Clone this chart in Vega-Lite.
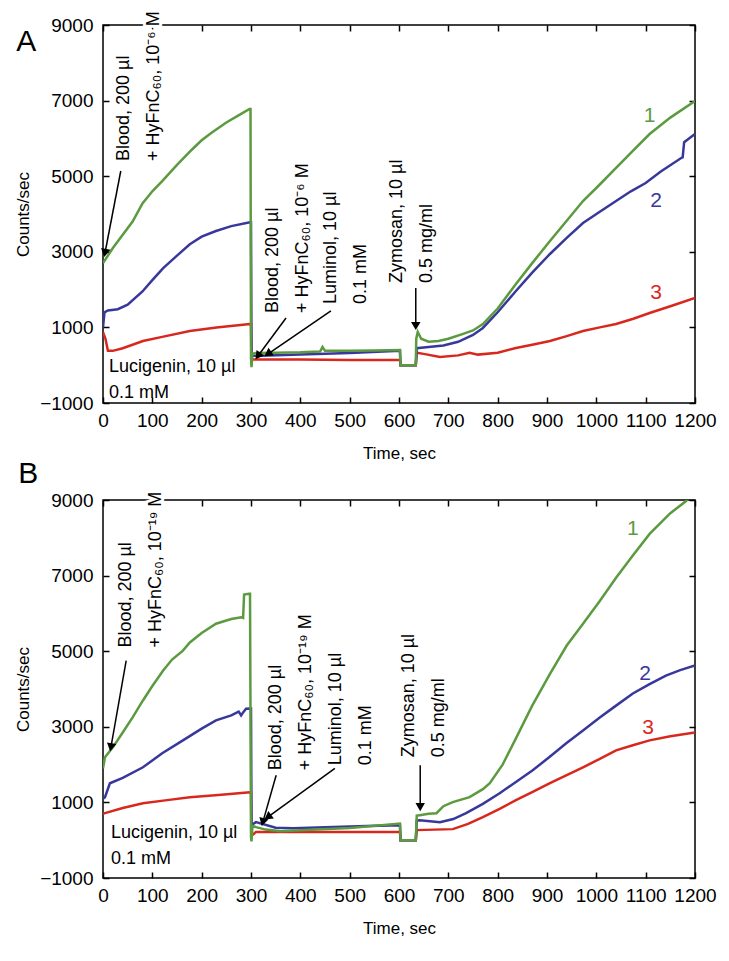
{
  "$schema": "https://vega.github.io/schema/vega-lite/v6.json",
  "background": "white",
  "padding": {"left": 13, "top": 10, "right": 5, "bottom": 5},
  "config": {
    "font": "Liberation Sans",
    "view": {"stroke": "black", "strokeWidth": 1.5},
    "axis": {
      "domain": false, "grid": false, "tickColor": "black", "tickSize": 6, "offset": -6, "tickWidth": 1.5,
      "labelColor": "black", "labelFontSize": 19, "labelFlush": false, "labelOverlap": false, "format": "d",
      "titleFontSize": 17, "titleFontWeight": "normal", "titleColor": "black"
    },
    "axisX": {"labelPadding": 8, "titlePadding": 15},
    "axisY": {"labelPadding": 10, "titlePadding": 7}
  },
  "datasets": {
    "curves": [
      {"p":"A","s":"3","t":0,"v":870},{"p":"A","s":"3","t":5,"v":700},{"p":"A","s":"3","t":10,"v":380},{"p":"A","s":"3","t":20,"v":380},{"p":"A","s":"3","t":40,"v":450},{"p":"A","s":"3","t":81,"v":640},{"p":"A","s":"3","t":120,"v":750},{"p":"A","s":"3","t":176,"v":905},{"p":"A","s":"3","t":230,"v":1000},{"p":"A","s":"3","t":298,"v":1090},{"p":"A","s":"3","t":300,"v":1090},{"p":"A","s":"3","t":301,"v":150},{"p":"A","s":"3","t":400,"v":150},{"p":"A","s":"3","t":500,"v":140},{"p":"A","s":"3","t":602,"v":138},{"p":"A","s":"3","t":603,"v":0},{"p":"A","s":"3","t":634,"v":0},{"p":"A","s":"3","t":636,"v":330},{"p":"A","s":"3","t":650,"v":300},{"p":"A","s":"3","t":683,"v":217},{"p":"A","s":"3","t":720,"v":260},{"p":"A","s":"3","t":743,"v":330},{"p":"A","s":"3","t":760,"v":280},{"p":"A","s":"3","t":800,"v":330},{"p":"A","s":"3","t":837,"v":455},{"p":"A","s":"3","t":870,"v":540},{"p":"A","s":"3","t":906,"v":640},{"p":"A","s":"3","t":940,"v":770},{"p":"A","s":"3","t":973,"v":905},{"p":"A","s":"3","t":1007,"v":1000},{"p":"A","s":"3","t":1040,"v":1090},{"p":"A","s":"3","t":1075,"v":1230},{"p":"A","s":"3","t":1108,"v":1381},{"p":"A","s":"3","t":1150,"v":1560},{"p":"A","s":"3","t":1200,"v":1780},
      {"p":"A","s":"2","t":0,"v":1000},{"p":"A","s":"2","t":3,"v":1400},{"p":"A","s":"2","t":10,"v":1450},{"p":"A","s":"2","t":30,"v":1480},{"p":"A","s":"2","t":50,"v":1600},{"p":"A","s":"2","t":80,"v":1950},{"p":"A","s":"2","t":100,"v":2250},{"p":"A","s":"2","t":122,"v":2570},{"p":"A","s":"2","t":150,"v":2900},{"p":"A","s":"2","t":176,"v":3200},{"p":"A","s":"2","t":200,"v":3400},{"p":"A","s":"2","t":229,"v":3550},{"p":"A","s":"2","t":260,"v":3680},{"p":"A","s":"2","t":298,"v":3780},{"p":"A","s":"2","t":300,"v":3780},{"p":"A","s":"2","t":301,"v":250},{"p":"A","s":"2","t":320,"v":250},{"p":"A","s":"2","t":400,"v":280},{"p":"A","s":"2","t":500,"v":320},{"p":"A","s":"2","t":602,"v":380},{"p":"A","s":"2","t":603,"v":0},{"p":"A","s":"2","t":634,"v":0},{"p":"A","s":"2","t":636,"v":450},{"p":"A","s":"2","t":660,"v":480},{"p":"A","s":"2","t":690,"v":520},{"p":"A","s":"2","t":720,"v":620},{"p":"A","s":"2","t":750,"v":800},{"p":"A","s":"2","t":770,"v":985},{"p":"A","s":"2","t":800,"v":1400},{"p":"A","s":"2","t":837,"v":1963},{"p":"A","s":"2","t":870,"v":2450},{"p":"A","s":"2","t":906,"v":2942},{"p":"A","s":"2","t":940,"v":3370},{"p":"A","s":"2","t":973,"v":3762},{"p":"A","s":"2","t":1007,"v":4060},{"p":"A","s":"2","t":1040,"v":4344},{"p":"A","s":"2","t":1070,"v":4600},{"p":"A","s":"2","t":1100,"v":4820},{"p":"A","s":"2","t":1130,"v":5120},{"p":"A","s":"2","t":1172,"v":5482},{"p":"A","s":"2","t":1175,"v":5500},{"p":"A","s":"2","t":1178,"v":5900},{"p":"A","s":"2","t":1200,"v":6116},
      {"p":"A","s":"1","t":0,"v":2700},{"p":"A","s":"1","t":10,"v":2900},{"p":"A","s":"1","t":20,"v":3100},{"p":"A","s":"1","t":40,"v":3450},{"p":"A","s":"1","t":60,"v":3800},{"p":"A","s":"1","t":80,"v":4280},{"p":"A","s":"1","t":100,"v":4600},{"p":"A","s":"1","t":120,"v":4870},{"p":"A","s":"1","t":150,"v":5300},{"p":"A","s":"1","t":180,"v":5700},{"p":"A","s":"1","t":200,"v":5950},{"p":"A","s":"1","t":220,"v":6150},{"p":"A","s":"1","t":250,"v":6420},{"p":"A","s":"1","t":280,"v":6650},{"p":"A","s":"1","t":297,"v":6780},{"p":"A","s":"1","t":299,"v":6780},{"p":"A","s":"1","t":300,"v":200},{"p":"A","s":"1","t":301,"v":-50},{"p":"A","s":"1","t":303,"v":300},{"p":"A","s":"1","t":310,"v":320},{"p":"A","s":"1","t":350,"v":330},{"p":"A","s":"1","t":400,"v":340},{"p":"A","s":"1","t":440,"v":360},{"p":"A","s":"1","t":445,"v":480},{"p":"A","s":"1","t":450,"v":380},{"p":"A","s":"1","t":500,"v":380},{"p":"A","s":"1","t":550,"v":390},{"p":"A","s":"1","t":602,"v":400},{"p":"A","s":"1","t":603,"v":0},{"p":"A","s":"1","t":634,"v":0},{"p":"A","s":"1","t":635,"v":700},{"p":"A","s":"1","t":638,"v":880},{"p":"A","s":"1","t":645,"v":700},{"p":"A","s":"1","t":660,"v":620},{"p":"A","s":"1","t":680,"v":640},{"p":"A","s":"1","t":700,"v":700},{"p":"A","s":"1","t":730,"v":830},{"p":"A","s":"1","t":750,"v":920},{"p":"A","s":"1","t":770,"v":1090},{"p":"A","s":"1","t":800,"v":1500},{"p":"A","s":"1","t":837,"v":2148},{"p":"A","s":"1","t":870,"v":2700},{"p":"A","s":"1","t":906,"v":3286},{"p":"A","s":"1","t":940,"v":3820},{"p":"A","s":"1","t":973,"v":4344},{"p":"A","s":"1","t":1007,"v":4780},{"p":"A","s":"1","t":1040,"v":5217},{"p":"A","s":"1","t":1074,"v":5670},{"p":"A","s":"1","t":1108,"v":6116},{"p":"A","s":"1","t":1150,"v":6550},{"p":"A","s":"1","t":1200,"v":6990},
      {"p":"B","s":"3","t":0,"v":700},{"p":"B","s":"3","t":4,"v":715},{"p":"B","s":"3","t":40,"v":850},{"p":"B","s":"3","t":81,"v":979},{"p":"B","s":"3","t":130,"v":1060},{"p":"B","s":"3","t":176,"v":1138},{"p":"B","s":"3","t":240,"v":1200},{"p":"B","s":"3","t":298,"v":1269},{"p":"B","s":"3","t":300,"v":1269},{"p":"B","s":"3","t":301,"v":120},{"p":"B","s":"3","t":310,"v":214},{"p":"B","s":"3","t":400,"v":214},{"p":"B","s":"3","t":500,"v":220},{"p":"B","s":"3","t":602,"v":214},{"p":"B","s":"3","t":603,"v":0},{"p":"B","s":"3","t":634,"v":0},{"p":"B","s":"3","t":636,"v":267},{"p":"B","s":"3","t":709,"v":293},{"p":"B","s":"3","t":740,"v":430},{"p":"B","s":"3","t":770,"v":610},{"p":"B","s":"3","t":804,"v":830},{"p":"B","s":"3","t":837,"v":1058},{"p":"B","s":"3","t":871,"v":1280},{"p":"B","s":"3","t":906,"v":1507},{"p":"B","s":"3","t":940,"v":1720},{"p":"B","s":"3","t":973,"v":1929},{"p":"B","s":"3","t":1007,"v":2150},{"p":"B","s":"3","t":1040,"v":2377},{"p":"B","s":"3","t":1074,"v":2510},{"p":"B","s":"3","t":1108,"v":2641},{"p":"B","s":"3","t":1150,"v":2750},{"p":"B","s":"3","t":1200,"v":2852},
      {"p":"B","s":"2","t":0,"v":1100},{"p":"B","s":"2","t":4,"v":1137},{"p":"B","s":"2","t":14,"v":1507},{"p":"B","s":"2","t":40,"v":1650},{"p":"B","s":"2","t":81,"v":1929},{"p":"B","s":"2","t":120,"v":2300},{"p":"B","s":"2","t":162,"v":2641},{"p":"B","s":"2","t":200,"v":2950},{"p":"B","s":"2","t":229,"v":3169},{"p":"B","s":"2","t":260,"v":3300},{"p":"B","s":"2","t":275,"v":3400},{"p":"B","s":"2","t":280,"v":3300},{"p":"B","s":"2","t":284,"v":3380},{"p":"B","s":"2","t":290,"v":3480},{"p":"B","s":"2","t":298,"v":3486},{"p":"B","s":"2","t":300,"v":3486},{"p":"B","s":"2","t":301,"v":400},{"p":"B","s":"2","t":310,"v":478},{"p":"B","s":"2","t":350,"v":330},{"p":"B","s":"2","t":385,"v":319},{"p":"B","s":"2","t":450,"v":340},{"p":"B","s":"2","t":500,"v":360},{"p":"B","s":"2","t":602,"v":398},{"p":"B","s":"2","t":603,"v":0},{"p":"B","s":"2","t":634,"v":0},{"p":"B","s":"2","t":636,"v":520},{"p":"B","s":"2","t":642,"v":530},{"p":"B","s":"2","t":683,"v":478},{"p":"B","s":"2","t":710,"v":560},{"p":"B","s":"2","t":736,"v":715},{"p":"B","s":"2","t":770,"v":960},{"p":"B","s":"2","t":804,"v":1243},{"p":"B","s":"2","t":837,"v":1540},{"p":"B","s":"2","t":871,"v":1850},{"p":"B","s":"2","t":905,"v":2200},{"p":"B","s":"2","t":939,"v":2562},{"p":"B","s":"2","t":973,"v":2900},{"p":"B","s":"2","t":1007,"v":3248},{"p":"B","s":"2","t":1040,"v":3560},{"p":"B","s":"2","t":1074,"v":3881},{"p":"B","s":"2","t":1107,"v":4120},{"p":"B","s":"2","t":1141,"v":4356},{"p":"B","s":"2","t":1170,"v":4500},{"p":"B","s":"2","t":1200,"v":4620},
      {"p":"B","s":"1","t":0,"v":1900},{"p":"B","s":"1","t":4,"v":2193},{"p":"B","s":"1","t":20,"v":2457},{"p":"B","s":"1","t":40,"v":2850},{"p":"B","s":"1","t":60,"v":3250},{"p":"B","s":"1","t":81,"v":3697},{"p":"B","s":"1","t":100,"v":4080},{"p":"B","s":"1","t":122,"v":4488},{"p":"B","s":"1","t":140,"v":4780},{"p":"B","s":"1","t":162,"v":5016},{"p":"B","s":"1","t":176,"v":5230},{"p":"B","s":"1","t":200,"v":5480},{"p":"B","s":"1","t":229,"v":5728},{"p":"B","s":"1","t":260,"v":5850},{"p":"B","s":"1","t":280,"v":5900},{"p":"B","s":"1","t":284,"v":5880},{"p":"B","s":"1","t":286,"v":6500},{"p":"B","s":"1","t":296,"v":6520},{"p":"B","s":"1","t":298,"v":6520},{"p":"B","s":"1","t":300,"v":100},{"p":"B","s":"1","t":301,"v":-30},{"p":"B","s":"1","t":303,"v":380},{"p":"B","s":"1","t":310,"v":346},{"p":"B","s":"1","t":330,"v":280},{"p":"B","s":"1","t":360,"v":240},{"p":"B","s":"1","t":400,"v":260},{"p":"B","s":"1","t":500,"v":320},{"p":"B","s":"1","t":602,"v":440},{"p":"B","s":"1","t":603,"v":0},{"p":"B","s":"1","t":634,"v":0},{"p":"B","s":"1","t":636,"v":650},{"p":"B","s":"1","t":642,"v":662},{"p":"B","s":"1","t":660,"v":700},{"p":"B","s":"1","t":676,"v":715},{"p":"B","s":"1","t":690,"v":900},{"p":"B","s":"1","t":709,"v":1006},{"p":"B","s":"1","t":743,"v":1138},{"p":"B","s":"1","t":770,"v":1350},{"p":"B","s":"1","t":784,"v":1507},{"p":"B","s":"1","t":810,"v":2000},{"p":"B","s":"1","t":838,"v":2720},{"p":"B","s":"1","t":870,"v":3560},{"p":"B","s":"1","t":906,"v":4400},{"p":"B","s":"1","t":940,"v":5150},{"p":"B","s":"1","t":973,"v":5728},{"p":"B","s":"1","t":1007,"v":6330},{"p":"B","s":"1","t":1040,"v":6942},{"p":"B","s":"1","t":1074,"v":7530},{"p":"B","s":"1","t":1108,"v":8103},{"p":"B","s":"1","t":1150,"v":8650},{"p":"B","s":"1","t":1182,"v":8974},{"p":"B","s":"1","t":1200,"v":9250}
    ],
    "labels": [
      {"p":"A","s":"1","t":1108,"v":6593},{"p":"A","s":"2","t":1121,"v":4344},{"p":"A","s":"3","t":1121,"v":1910},
      {"p":"B","s":"1","t":1074,"v":8235},{"p":"B","s":"2","t":1099,"v":4409},{"p":"B","s":"3","t":1105,"v":2958}
    ],
    "notes": [
      {"p":"A","k":"rot","t":24,"v":5402,"txt":"Blood, 200 µl\n+ HyFnC₆₀, 10⁻⁶ M"},
      {"p":"A","k":"rot","t":326,"v":1381,"txt":"Blood, 200 µl\n+ HyFnC₆₀, 10⁻⁶ M"},
      {"p":"A","k":"rot","t":444,"v":1619,"txt":"Luminol, 10 µl\n0.1 mM"},
      {"p":"A","k":"rot","t":578,"v":2175,"txt":"Zymosan, 10 µl\n0.5 mg/ml"},
      {"p":"A","k":"flat","t":12,"v":190,"txt":"Lucigenin, 10 µl\n0.1 mM"},
      {"p":"B","k":"rot","t":28,"v":5095,"txt":"Blood, 200 µl\n+ HyFnC₆₀, 10⁻¹⁹ M"},
      {"p":"B","k":"rot","t":332,"v":1850,"txt":"Blood, 200 µl\n+ HyFnC₆₀, 10⁻¹⁹ M"},
      {"p":"B","k":"rot","t":454,"v":1982,"txt":"Luminol, 10 µl\n0.1 mM"},
      {"p":"B","k":"rot","t":602,"v":2193,"txt":"Zymosan, 10 µl\n0.5 mg/ml"},
      {"p":"B","k":"flat","t":16,"v":425,"txt":"Lucigenin, 10 µl\n0.1 mM"}
    ],
    "arrows": [
      {"p":"A","t":36,"v":5138,"t2":4,"v2":2968},
      {"p":"A","t":371,"v":1249,"t2":314,"v2":243},
      {"p":"A","t":462,"v":1434,"t2":334,"v2":296},
      {"p":"A","t":634,"v":2042,"t2":634,"v2":1037},
      {"p":"B","t":47,"v":4752,"t2":16,"v2":2457},
      {"p":"B","t":351,"v":1718,"t2":324,"v2":478},
      {"p":"B","t":470,"v":1902,"t2":334,"v2":610},
      {"p":"B","t":643,"v":1982,"t2":643,"v2":873}
    ],
    "letters": [
      {"p":"A","t":-176,"v":8312,"txt":"A"},
      {"p":"B","t":-172,"v":9449,"txt":"B"}
    ]
  },
  "bounds": "flush",
  "spacing": 97,
  "vconcat": [
    {
      "width": 592, "height": 378,
      "resolve": {"axis": {"x": "independent", "y": "independent"}},
      "layer": [
        {
          "data": {"name": "curves"},
          "transform": [{"filter": "datum.p === 'A'"}],
          "mark": {"type": "line", "clip": true, "strokeWidth": 2.5},
          "encoding": {
            "x": {"field": "t", "type": "quantitative", "scale": {"domain": [0, 1200], "nice": false},
                  "axis": {"orient": "bottom", "title": "Time, sec", "values": [0,100,200,300,400,500,600,700,800,900,1000,1100,1200]}},
            "y": {"field": "v", "type": "quantitative", "scale": {"domain": [-1000, 9000], "nice": false},
                  "axis": {"orient": "left", "title": "Counts/sec", "values": [-1000,1000,3000,5000,7000,9000]}},
            "color": {"field": "s", "type": "nominal", "scale": {"domain": ["1","2","3"], "range": ["#5b9a3f","#38389c","#d8281e"]}, "legend": null}
          }
        },
        {
          "data": {"name": "labels"},
          "transform": [{"filter": "datum.p === 'A'"}],
          "mark": {"type": "text", "fontSize": 21},
          "encoding": {
            "x": {"field": "t", "type": "quantitative", "axis": {"orient": "top", "labels": false, "title": null, "values": [0,100,200,300,400,500,600,700,800,900,1000,1100,1200]}},
            "y": {"field": "v", "type": "quantitative", "axis": {"orient": "right", "labels": false, "title": null, "values": [-1000,1000,3000,5000,7000,9000]}},
            "text": {"field": "s"},
            "color": {"field": "s", "type": "nominal", "legend": null}
          }
        },
        {
          "data": {"name": "notes"},
          "transform": [{"filter": "datum.p === 'A' && datum.k === 'rot'"}],
          "mark": {"type": "text", "angle": 270, "align": "left", "baseline": "top", "lineBreak": "\n", "lineHeight": 30, "fontSize": 18, "fill": "white", "stroke": "white", "strokeWidth": 6},
          "encoding": {
            "x": {"field": "t", "type": "quantitative", "axis": null},
            "y": {"field": "v", "type": "quantitative", "axis": null},
            "text": {"field": "txt"}
          }
        },
        {
          "data": {"name": "arrows"},
          "transform": [{"filter": "datum.p === 'A'"}],
          "mark": {"type": "rule", "color": "black", "strokeWidth": 1.5},
          "encoding": {
            "x": {"field": "t", "type": "quantitative", "axis": null},
            "y": {"field": "v", "type": "quantitative", "axis": null},
            "x2": {"field": "t2"},
            "y2": {"field": "v2"}
          }
        },
        {
          "data": {"name": "arrows"},
          "transform": [
            {"filter": "datum.p === 'A'"},
            {"calculate": "atan2(-(datum.t2 - datum.t) * 0.4933, (datum.v - datum.v2) * 0.0378) * 180 / PI", "as": "ang"}
          ],
          "mark": {"type": "point", "shape": "triangle-down", "filled": true, "color": "black", "opacity": 1, "size": 90},
          "encoding": {
            "x": {"field": "t2", "type": "quantitative", "axis": null},
            "y": {"field": "v2", "type": "quantitative", "axis": null},
            "angle": {"field": "ang", "type": "quantitative", "scale": null}
          }
        },
        {
          "data": {"name": "notes"},
          "transform": [{"filter": "datum.p === 'A' && datum.k === 'rot'"}],
          "mark": {"type": "text", "angle": 270, "align": "left", "baseline": "top", "lineBreak": "\n", "lineHeight": 30, "fontSize": 18, "color": "black"},
          "encoding": {
            "x": {"field": "t", "type": "quantitative", "axis": null},
            "y": {"field": "v", "type": "quantitative", "axis": null},
            "text": {"field": "txt"}
          }
        },
        {
          "data": {"name": "notes"},
          "transform": [{"filter": "datum.p === 'A' && datum.k === 'flat'"}],
          "mark": {"type": "text", "align": "left", "baseline": "top", "lineBreak": "\n", "lineHeight": 26, "fontSize": 18, "color": "black"},
          "encoding": {
            "x": {"field": "t", "type": "quantitative", "axis": null},
            "y": {"field": "v", "type": "quantitative", "axis": null},
            "text": {"field": "txt"}
          }
        },
        {
          "data": {"name": "letters"},
          "transform": [{"filter": "datum.p === 'A'"}],
          "mark": {"type": "text", "align": "left", "baseline": "alphabetic", "fontSize": 30, "color": "black"},
          "encoding": {
            "x": {"field": "t", "type": "quantitative", "axis": null},
            "y": {"field": "v", "type": "quantitative", "axis": null},
            "text": {"field": "txt"}
          }
        }
      ]
    },
    {
      "width": 592, "height": 378,
      "resolve": {"axis": {"x": "independent", "y": "independent"}},
      "layer": [
        {
          "data": {"name": "curves"},
          "transform": [{"filter": "datum.p === 'B'"}],
          "mark": {"type": "line", "clip": true, "strokeWidth": 2.5},
          "encoding": {
            "x": {"field": "t", "type": "quantitative", "scale": {"domain": [0, 1200], "nice": false},
                  "axis": {"orient": "bottom", "title": "Time, sec", "values": [0,100,200,300,400,500,600,700,800,900,1000,1100,1200]}},
            "y": {"field": "v", "type": "quantitative", "scale": {"domain": [-1000, 9000], "nice": false},
                  "axis": {"orient": "left", "title": "Counts/sec", "values": [-1000,1000,3000,5000,7000,9000]}},
            "color": {"field": "s", "type": "nominal", "scale": {"domain": ["1","2","3"], "range": ["#5b9a3f","#38389c","#d8281e"]}, "legend": null}
          }
        },
        {
          "data": {"name": "labels"},
          "transform": [{"filter": "datum.p === 'B'"}],
          "mark": {"type": "text", "fontSize": 21},
          "encoding": {
            "x": {"field": "t", "type": "quantitative", "axis": {"orient": "top", "labels": false, "title": null, "values": [0,100,200,300,400,500,600,700,800,900,1000,1100,1200]}},
            "y": {"field": "v", "type": "quantitative", "axis": {"orient": "right", "labels": false, "title": null, "values": [-1000,1000,3000,5000,7000,9000]}},
            "text": {"field": "s"},
            "color": {"field": "s", "type": "nominal", "legend": null}
          }
        },
        {
          "data": {"name": "notes"},
          "transform": [{"filter": "datum.p === 'B' && datum.k === 'rot'"}],
          "mark": {"type": "text", "angle": 270, "align": "left", "baseline": "top", "lineBreak": "\n", "lineHeight": 30, "fontSize": 18, "fill": "white", "stroke": "white", "strokeWidth": 6},
          "encoding": {
            "x": {"field": "t", "type": "quantitative", "axis": null},
            "y": {"field": "v", "type": "quantitative", "axis": null},
            "text": {"field": "txt"}
          }
        },
        {
          "data": {"name": "arrows"},
          "transform": [{"filter": "datum.p === 'B'"}],
          "mark": {"type": "rule", "color": "black", "strokeWidth": 1.5},
          "encoding": {
            "x": {"field": "t", "type": "quantitative", "axis": null},
            "y": {"field": "v", "type": "quantitative", "axis": null},
            "x2": {"field": "t2"},
            "y2": {"field": "v2"}
          }
        },
        {
          "data": {"name": "arrows"},
          "transform": [
            {"filter": "datum.p === 'B'"},
            {"calculate": "atan2(-(datum.t2 - datum.t) * 0.4933, (datum.v - datum.v2) * 0.0378) * 180 / PI", "as": "ang"}
          ],
          "mark": {"type": "point", "shape": "triangle-down", "filled": true, "color": "black", "opacity": 1, "size": 90},
          "encoding": {
            "x": {"field": "t2", "type": "quantitative", "axis": null},
            "y": {"field": "v2", "type": "quantitative", "axis": null},
            "angle": {"field": "ang", "type": "quantitative", "scale": null}
          }
        },
        {
          "data": {"name": "notes"},
          "transform": [{"filter": "datum.p === 'B' && datum.k === 'rot'"}],
          "mark": {"type": "text", "angle": 270, "align": "left", "baseline": "top", "lineBreak": "\n", "lineHeight": 30, "fontSize": 18, "color": "black"},
          "encoding": {
            "x": {"field": "t", "type": "quantitative", "axis": null},
            "y": {"field": "v", "type": "quantitative", "axis": null},
            "text": {"field": "txt"}
          }
        },
        {
          "data": {"name": "notes"},
          "transform": [{"filter": "datum.p === 'B' && datum.k === 'flat'"}],
          "mark": {"type": "text", "align": "left", "baseline": "top", "lineBreak": "\n", "lineHeight": 26, "fontSize": 18, "color": "black"},
          "encoding": {
            "x": {"field": "t", "type": "quantitative", "axis": null},
            "y": {"field": "v", "type": "quantitative", "axis": null},
            "text": {"field": "txt"}
          }
        },
        {
          "data": {"name": "letters"},
          "transform": [{"filter": "datum.p === 'B'"}],
          "mark": {"type": "text", "align": "left", "baseline": "alphabetic", "fontSize": 30, "color": "black"},
          "encoding": {
            "x": {"field": "t", "type": "quantitative", "axis": null},
            "y": {"field": "v", "type": "quantitative", "axis": null},
            "text": {"field": "txt"}
          }
        }
      ]
    }
  ]
}
